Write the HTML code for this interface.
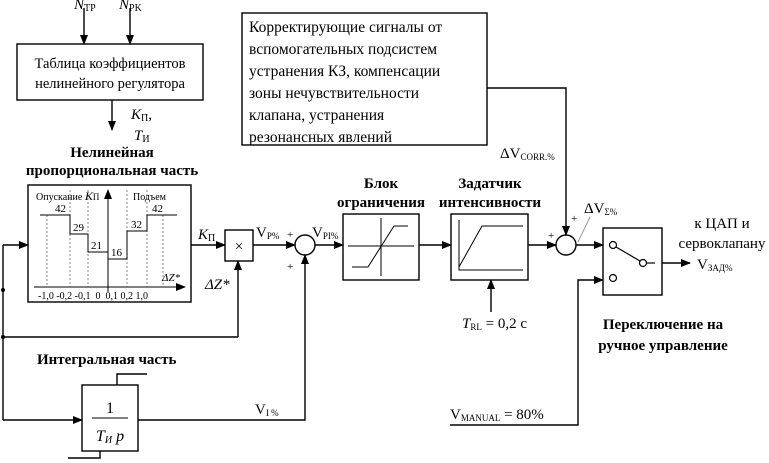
<!DOCTYPE html>
<html><head><meta charset="utf-8"><style>
html,body{margin:0;padding:0;background:#fff;}
svg{display:block;font-family:"Liberation Serif","DejaVu Serif",serif;}
</style></head><body>
<svg width="769" height="463" viewBox="0 0 769 463" xmlns="http://www.w3.org/2000/svg">
<defs><marker id="a" markerWidth="10" markerHeight="8" refX="9" refY="4" orient="auto" markerUnits="userSpaceOnUse"><path d="M0,0 L10,4 L0,8 Z" fill="#000"/></marker></defs>
<g stroke="#000" stroke-width="1.4" fill="none">
<rect x="17" y="44" width="186" height="56"/>
<line x1="84" y1="8" x2="84" y2="44" marker-end="url(#a)"/>
<line x1="130" y1="8" x2="130" y2="44" marker-end="url(#a)"/>
<line x1="112" y1="100" x2="112" y2="130" marker-end="url(#a)"/>
<rect x="28" y="185" width="163" height="117"/>
<line x1="3" y1="245" x2="3" y2="420"/>
<line x1="3" y1="245" x2="28" y2="245" marker-end="url(#a)"/>
<line x1="3" y1="337" x2="238" y2="337"/>
<line x1="238" y1="337" x2="238" y2="261" marker-end="url(#a)"/>
<line x1="191" y1="245" x2="225" y2="245" marker-end="url(#a)"/>
<rect x="225" y="230" width="28" height="31"/>
<line x1="253" y1="245" x2="295" y2="245" marker-end="url(#a)"/>
<circle cx="305" cy="245" r="10"/>
<line x1="3" y1="420" x2="82" y2="420" marker-end="url(#a)"/>
<rect x="82" y="385" width="56" height="66"/>
<polyline points="117,385 117,374 147,374"/>
<polyline points="100,451 100,458 68,458"/>
<polyline points="138,420 305,420 305,255" marker-end="url(#a)"/>
<line x1="315" y1="245" x2="343" y2="245" marker-end="url(#a)"/>
<rect x="343" y="214" width="76" height="66"/>
<line x1="348" y1="246" x2="414" y2="246" stroke-width="1"/>
<line x1="381" y1="218" x2="381" y2="276" stroke-width="1"/>
<polyline points="352,267 368,267 394,226 408,226" stroke-width="1"/>
<line x1="419" y1="245" x2="451" y2="245" marker-end="url(#a)"/>
<rect x="451" y="214" width="77" height="66"/>
<polyline points="459,220 459,270 523,270" stroke-width="1"/>
<polyline points="459,267 482,226 523,226" stroke-width="1"/>
<line x1="491" y1="312" x2="491" y2="280" marker-end="url(#a)"/>
<line x1="528" y1="245" x2="556" y2="245" marker-end="url(#a)"/>
<circle cx="566" cy="245" r="10"/>
<rect x="242" y="13" width="245" height="132"/>
<polyline points="487,88 566,88 566,235" marker-end="url(#a)"/>
<line x1="576" y1="245" x2="603" y2="245" marker-end="url(#a)"/>
<line x1="578" y1="242" x2="590" y2="217" stroke="#999" stroke-width="1"/>
<rect x="603" y="228" width="59" height="67"/>
<circle cx="613" cy="245" r="3.5" stroke-width="1.2"/>
<circle cx="613" cy="278" r="3.5" stroke-width="1.2"/>
<circle cx="643" cy="263" r="3.5" stroke-width="1.2"/>
<line x1="616" y1="247" x2="640" y2="261" stroke-width="1.2"/>
<line x1="646" y1="263" x2="655" y2="263" stroke-width="1.2"/>
<line x1="662" y1="263" x2="690" y2="263" marker-end="url(#a)"/>
<polyline points="450,425 578,425 578,280 603,280" marker-end="url(#a)"/>
<line x1="34" y1="287" x2="185" y2="287" stroke-width="1" marker-end="url(#a)"/>
<line x1="108" y1="292" x2="108" y2="190" stroke-width="1" marker-end="url(#a)"/>
<g stroke-width="0.7" stroke-dasharray="2,2" stroke="#555">
<line x1="47" y1="215" x2="47" y2="287"/><line x1="70" y1="190" x2="70" y2="287"/>
<line x1="88" y1="190" x2="88" y2="287"/><line x1="127" y1="190" x2="127" y2="287"/>
<line x1="147" y1="190" x2="147" y2="287"/><line x1="163" y1="215" x2="163" y2="287"/>
</g>
<polyline stroke-width="1" points="40,215 70,215 70,234 88,234 88,252 108,252 108,259 127,259 127,231 147,231 147,215 177,215"/>
</g>
<g fill="#000" stroke="none">
<circle cx="3" cy="290" r="2"/><circle cx="3" cy="337" r="2"/>
</g>
<g font-size="14" fill="#000">
<text x="74" y="9" font-style="italic" font-size="15">N<tspan font-size="10" font-style="normal" dy="2">TP</tspan></text>
<text x="119" y="9" font-style="italic" font-size="15">N<tspan font-size="10" font-style="normal" dy="2">PK</tspan></text>
<text x="110" y="68" text-anchor="middle" font-size="14.5">Таблица коэффициентов</text>
<text x="110" y="88" text-anchor="middle" font-size="14.5">нелинейного регулятора</text>
<text x="131" y="119" font-style="italic" font-size="15">K<tspan font-size="10" font-style="normal" dy="2">П</tspan><tspan dy="-2">,</tspan></text>
<text x="134" y="140" font-style="italic" font-size="15">T<tspan font-size="10" font-style="normal" dy="2">И</tspan></text>
<text x="112" y="157" text-anchor="middle" font-weight="bold" font-size="15">Нелинейная</text>
<text x="112" y="175" text-anchor="middle" font-weight="bold" font-size="15">пропорциональная часть</text>
<text x="36" y="200" font-size="10">Опускание <tspan font-style="italic" font-size="12">K</tspan><tspan font-size="9">П</tspan></text>
<text x="133" y="200" font-size="10">Подъем</text>
<g font-size="11">
<text x="55" y="212">42</text><text x="73" y="231">29</text><text x="91" y="249">21</text>
<text x="111" y="256">16</text><text x="131" y="228">32</text><text x="152" y="212">42</text>
</g>
<text x="162" y="281" font-size="11" font-style="italic">ΔZ*</text>
<text x="38" y="299" font-size="10">-1,0 -0,2 -0,1 &#160;0 &#160;0,1 0,2 1,0</text>
<text x="198" y="239" font-style="italic" font-size="15">K<tspan font-size="10" font-style="normal" dy="2">П</tspan></text>
<text x="239" y="251" text-anchor="middle" font-size="15">×</text>
<text x="205" y="289" font-style="italic" font-size="15">ΔZ*</text>
<text x="256" y="237" font-size="15">V<tspan font-size="9" dy="2">P%</tspan></text>
<text x="287" y="238" font-size="11">+</text>
<text x="287" y="270" font-size="11">+</text>
<text x="312" y="237" font-size="15">V<tspan font-size="9" dy="2">PI%</tspan></text>
<text x="37" y="364" font-weight="bold" font-size="15">Интегральная часть</text>
<text x="110" y="413" text-anchor="middle" font-size="16">1</text>
<line x1="92" y1="418" x2="128" y2="418" stroke="#000" stroke-width="1"/>
<text x="110" y="441" text-anchor="middle" font-style="italic" font-size="16">T<tspan font-size="10" dy="2">И</tspan><tspan dy="-2"> p</tspan></text>
<text x="255" y="414" font-size="15">V<tspan font-size="9" dy="2">I %</tspan></text>
<text x="381" y="188" text-anchor="middle" font-weight="bold" font-size="15">Блок</text>
<text x="381" y="207" text-anchor="middle" font-weight="bold" font-size="15">ограничения</text>
<text x="490" y="188" text-anchor="middle" font-weight="bold" font-size="15">Задатчик</text>
<text x="490" y="207" text-anchor="middle" font-weight="bold" font-size="15">интенсивности</text>
<text x="462" y="328" font-style="italic" font-size="15">T<tspan font-size="9" font-style="normal" dy="2">RL</tspan><tspan font-style="normal" dy="-2"> = 0,2 с</tspan></text>
<g font-size="15.5">
<text x="249" y="32">Корректирующие сигналы от</text>
<text x="249" y="54">вспомогательных подсистем</text>
<text x="249" y="76">устранения КЗ, компенсации</text>
<text x="249" y="98">зоны нечувствительности</text>
<text x="249" y="120">клапана, устранения</text>
<text x="249" y="142">резонансных явлений</text>
</g>
<text x="500" y="158" font-size="15">ΔV<tspan font-size="9" dy="2">CORR.%</tspan></text>
<text x="571" y="222" font-size="11">+</text>
<text x="548" y="239" font-size="11">+</text>
<text x="584" y="213" font-size="15">ΔV<tspan font-size="9" dy="2">Σ%</tspan></text>
<text x="722" y="228" text-anchor="middle" font-size="15">к ЦАП и</text>
<text x="722" y="248" text-anchor="middle" font-size="15">сервоклапану</text>
<text x="697" y="269" font-size="15">V<tspan font-size="9" dy="2">ЗАД%</tspan></text>
<text x="663" y="329" text-anchor="middle" font-weight="bold" font-size="15">Переключение на</text>
<text x="663" y="350" text-anchor="middle" font-weight="bold" font-size="15">ручное управление</text>
<text x="450" y="419" font-size="15">V<tspan font-size="9" dy="2">MANUAL</tspan><tspan dy="-2"> = 80%</tspan></text>
</g>
</svg>
</body></html>
